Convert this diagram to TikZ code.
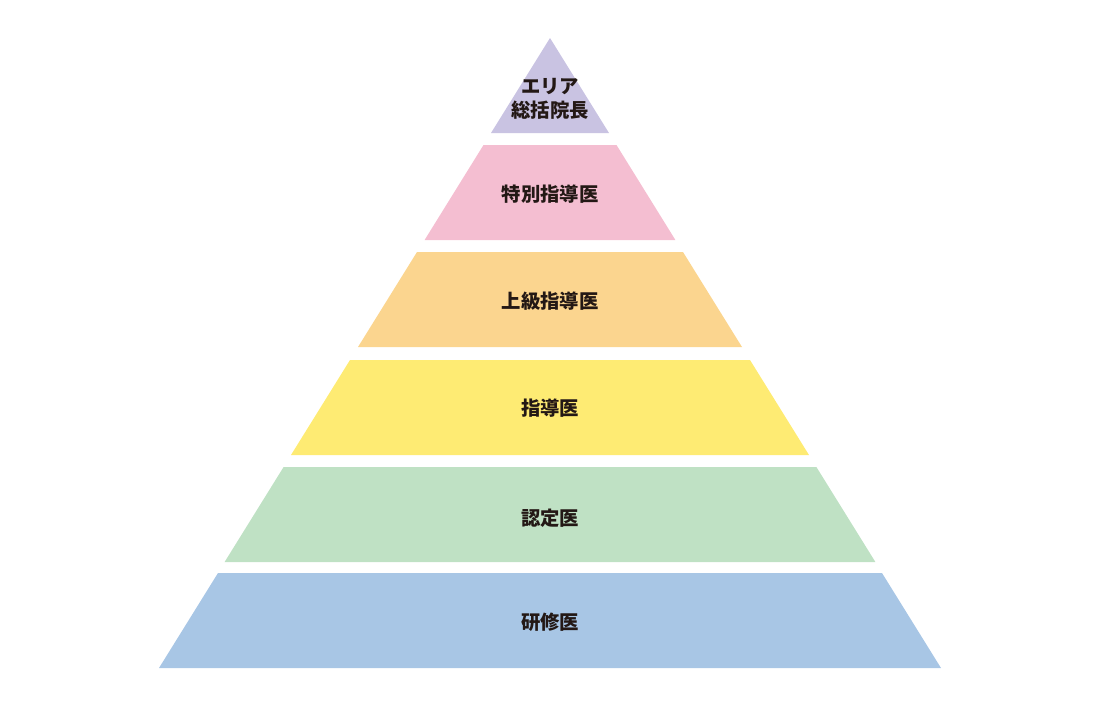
\documentclass[tikz,border=0pt]{standalone}
\usepackage{fontspec}
\newfontfamily\jpfont{Noto Sans CJK JP}
\usepackage{xcolor}
\usepackage{tikz}
\usetikzlibrary{positioning}

\definecolor{tierpurple}{HTML}{C9C3E2}
\definecolor{tierpink}{HTML}{F4BED1}
\definecolor{tierorange}{HTML}{FBD58F}
\definecolor{tieryellow}{HTML}{FEEB73}
\definecolor{tiergreen}{HTML}{BFE1C4}
\definecolor{tierblue}{HTML}{A8C6E5}
\definecolor{labeltext}{HTML}{231815}

\begin{document}
\begin{tikzpicture}[
    x=0.75pt, y=-0.75pt,
    tier/.style={draw=none},
    label/.style={font=\jpfont\bfseries\fontsize{14.5}{18}\selectfont, text=labeltext, align=center, inner sep=0pt}
]
    \useasboundingbox (0,0) rectangle (1101,711);

    % Tier 1
    \fill [tier, fill=tierpurple] (550,38) -- (609,133) -- (491,133) -- cycle;
    \node [label] (area_director) at (550,99) {エリア\\総括院長};

    % Tier 2
    \fill [tier, fill=tierpink] (483.5,145) -- (616.5,145) -- (675.4,240) -- (424.6,240) -- cycle;
    \node [label] (special_mentor) at (550,194) {特別指導医};

    % Tier 3
    \fill [tier, fill=tierorange] (417,252) -- (683,252) -- (742,347) -- (358,347) -- cycle;
    \node [label] (senior_mentor) at (550,301) {上級指導医};

    % Tier 4
    \fill [tier, fill=tieryellow] (350,360) -- (750,360) -- (809,455) -- (291,455) -- cycle;
    \node [label] (mentor) at (550,408) {指導医};

    % Tier 5
    \fill [tier, fill=tiergreen] (283.6,467) -- (816.4,467) -- (875.4,562) -- (224.6,562) -- cycle;
    \node [label] (certified) at (550,518) {認定医};

    % Tier 6
    \fill [tier, fill=tierblue] (218,573) -- (882,573) -- (941,668) -- (159,668) -- cycle;
    \node [label] (resident) at (550,622) {研修医};
\end{tikzpicture}
\end{document}
